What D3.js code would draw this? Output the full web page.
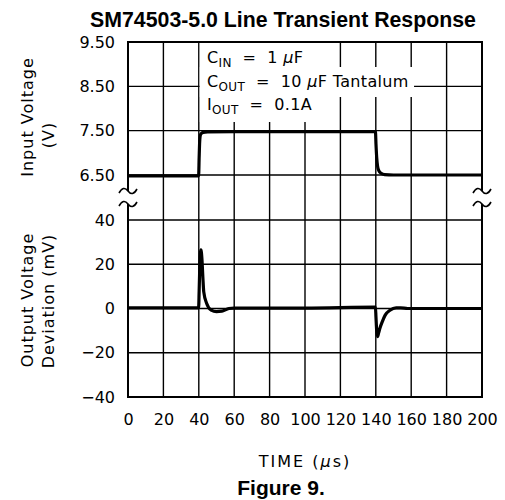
<!DOCTYPE html>
<html>
<head>
<meta charset="utf-8">
<script src="https://cdn.jsdelivr.net/npm/d3@7"></script>
<style>
  body { margin: 0; background: #fff; }
  .lab { font-family: "DejaVu Sans", sans-serif; fill: #000; }
  .ttl { font-family: "Liberation Sans", Arial, sans-serif; font-weight: bold; fill: #000; }
</style>
</head>
<body>
<div id="chart"></div>
<script>
// time ticks and the two y ranges
var timeTicks = [0, 20, 40, 60, 80, 100, 120, 140, 160, 180, 200];
var inTicks = [6.5, 7.5, 8.5, 9.5];
var outTicks = [-40, -20, 0, 20, 40];

// input voltage trace (us, V)
var inTime = [0, 39.9, 40.2, 40.5, 40.9, 41.5, 42.5, 45, 60, 100, 139.8, 140.1, 140.5, 141, 141.7, 143, 145, 150, 200];
var inVolt = [6.48, 6.48, 6.9, 7.25, 7.4, 7.44, 7.46, 7.47, 7.48, 7.48, 7.48, 7.2, 6.9, 6.7, 6.6, 6.54, 6.51, 6.5, 6.5];

// output voltage deviation trace (us, mV)
var outTime = [0, 39.9, 40.2, 40.6, 41.2, 41.8, 42.3, 42.8, 44.4, 47, 50, 53, 57, 60, 100,
               139.8, 140.1, 140.5, 141, 141.6, 142.5, 143.4, 145.3, 148, 151.5, 154, 158, 200];
var outDev = [0.3, 0.3, 8, 20, 26.5, 22, 14, 7.5, 2.4, -0.7, -1.4, -1.2, 0, 0.2, 0.2,
              0.6, -4, -10, -12.7, -11, -8.5, -6.5, -3, -0.8, 0.3, 0.3, 0, 0];

var svgWidth = 505;
var svgHeight = 500;

var svg = d3.select("#chart")
    .append("svg")
    .attr("width", svgWidth)
    .attr("height", svgHeight);

var x = d3.scaleLinear().domain([0, 200]).range([128, 482]);
var yIn = d3.scaleLinear().domain([6.5, 9.5]).range([175, 42]);
var yOut = d3.scaleLinear().domain([-40, 40]).range([397, 220]);

var plotTop = yIn(9.5), plotBottom = yOut(-40);

// grid
var grid = svg.append("g").attr("stroke", "#000").attr("stroke-width", 1.4);
grid.selectAll(".vg").data(timeTicks.slice(1, -1)).enter().append("line")
    .attr("x1", d => x(d)).attr("x2", d => x(d))
    .attr("y1", plotTop).attr("y2", plotBottom);
grid.selectAll(".hi").data(inTicks).enter().append("line")
    .attr("x1", x(0)).attr("x2", x(200))
    .attr("y1", d => yIn(d)).attr("y2", d => yIn(d));
grid.selectAll(".ho").data(outTicks).enter().append("line")
    .attr("x1", x(0)).attr("x2", x(200))
    .attr("y1", d => yOut(d)).attr("y2", d => yOut(d));

// white patches behind the note
svg.append("rect").attr("x", x(40) + 1).attr("y", plotTop + 1)
    .attr("width", x(118) - x(40) - 1).attr("height", 79).attr("fill", "#fff");
svg.append("rect").attr("x", x(40) + 1).attr("y", 67)
    .attr("width", x(161.6) - x(40) - 1).attr("height", 30).attr("fill", "#fff");

// frame with breaks
var frame = svg.append("g").attr("stroke", "#000").attr("stroke-width", 2).attr("fill", "none");
frame.append("line").attr("x1", x(0) - 1).attr("x2", x(200) + 1).attr("y1", plotTop).attr("y2", plotTop);
frame.append("line").attr("x1", x(0) - 1).attr("x2", x(200) + 1).attr("y1", plotBottom).attr("y2", plotBottom);
[0, 200].forEach(function(t) {
    frame.append("line").attr("x1", x(t)).attr("x2", x(t)).attr("y1", plotTop).attr("y2", 191);
    frame.append("line").attr("x1", x(t)).attr("x2", x(t)).attr("y1", 204).attr("y2", plotBottom);
    [191, 204].forEach(function(yy) {
        var cx = x(t);
        frame.append("path")
            .attr("stroke-width", 1.6)
            .attr("d", `M${cx - 9},${yy + 2} Q${cx - 4.5},${yy - 6} ${cx},${yy} T${cx + 9},${yy - 2}`);
    });
});

// traces
var lineIn = d3.line().x(d => x(d[0])).y(d => yIn(d[1])).curve(d3.curveMonotoneX);
var lineOut = d3.line().x(d => x(d[0])).y(d => yOut(d[1])).curve(d3.curveMonotoneX);

svg.append("path")
    .attr("d", lineIn(d3.zip(inTime, inVolt)))
    .attr("fill", "none").attr("stroke", "#000").attr("stroke-width", 3.2)
    .attr("stroke-linejoin", "round");
svg.append("path")
    .attr("d", lineOut(d3.zip(outTime, outDev)))
    .attr("fill", "none").attr("stroke", "#000").attr("stroke-width", 3.2)
    .attr("stroke-linejoin", "round");

// axes (labels only)
var xAxis = d3.axisBottom(x).tickValues(timeTicks).tickSize(0).tickPadding(17);
var gx = svg.append("g").attr("transform", `translate(0, ${plotBottom})`).call(xAxis);
var gyi = svg.append("g").attr("transform", `translate(${x(0)}, 0)`)
    .call(d3.axisLeft(yIn).tickValues(inTicks).tickFormat(d3.format(".2f")).tickSize(0).tickPadding(13));
var gyo = svg.append("g").attr("transform", `translate(${x(0)}, 0)`)
    .call(d3.axisLeft(yOut).tickValues(outTicks).tickFormat(d => d < 0 ? "\u2212" + Math.abs(d) : d).tickSize(0).tickPadding(13));
[gx, gyi, gyo].forEach(function(g) {
    g.select(".domain").remove();
    g.selectAll("text").attr("class", "lab").attr("font-size", 16).attr("font-family", null);
});

// note
var note = svg.append("g").attr("class", "lab").attr("font-size", 16).attr("letter-spacing", 0.35);
function noteLine(y, sym, sub, rest) {
    var t = note.append("text").attr("x", 207).attr("y", y);
    t.append("tspan").text(sym);
    t.append("tspan").attr("font-size", 12).attr("dy", 4).text(sub);
    t.append("tspan").attr("dy", -4).attr("xml:space", "preserve").text(rest[0]);
    if (rest.length > 1) {
        t.append("tspan").attr("font-style", "italic").text("\u03bc");
        t.append("tspan").attr("xml:space", "preserve").text(rest[1]);
    }
}
noteLine(63, "C", "IN", ["  =  1 ", "F"]);
noteLine(87, "C", "OUT", ["  =  10 ", "F Tantalum"]);
noteLine(110, "I", "OUT", ["  =  0.1A"]);

// axis titles
function vText(cx, cy, s) {
    svg.append("text").attr("class", "lab").attr("font-size", 16).attr("letter-spacing", 1)
        .attr("text-anchor", "middle").attr("dy", "0.35em")
        .attr("transform", `translate(${cx}, ${cy}) rotate(-90)`)
        .text(s);
}
vText(27, 117, "Input Voltage");
vText(48, 135, "(V)");
vText(27, 300, "Output Voltage");
vText(48, 301, "Deviation (mV)");

var xt = svg.append("text").attr("class", "lab").attr("font-size", 16).attr("letter-spacing", 2)
    .attr("text-anchor", "middle").attr("x", 305).attr("y", 467);
xt.append("tspan").text("TIME (");
xt.append("tspan").attr("font-style", "italic").text("\u03bc");
xt.append("tspan").text("s)");

svg.append("text").attr("class", "ttl").attr("font-size", 21.3)
    .attr("text-anchor", "middle").attr("x", 283).attr("y", 27)
    .text("SM74503-5.0 Line Transient Response");
svg.append("text").attr("class", "ttl").attr("font-size", 21)
    .attr("text-anchor", "middle").attr("x", 281).attr("y", 495)
    .text("Figure 9.");
</script>
</body>
</html>
